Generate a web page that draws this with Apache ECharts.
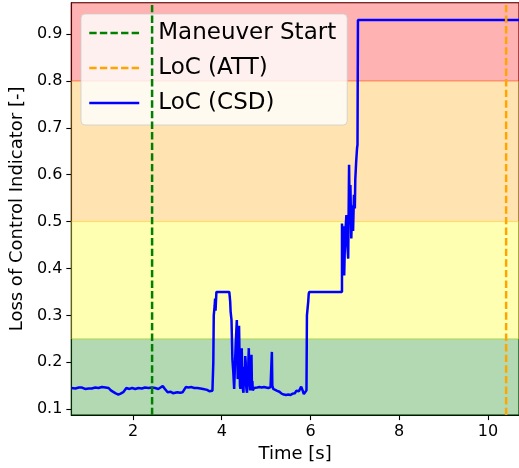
<!DOCTYPE html>
<html>
<head>
<meta charset="utf-8">
<script src="https://cdn.jsdelivr.net/npm/echarts@6/dist/echarts.min.js"></script>
<style>html,body{margin:0;padding:0;background:#fff;}#c{width:519px;height:468px;}</style>
</head>
<body>
<div id="c"></div>
<script>
// ---- data ----
const timeCsd = [0.61,0.70,0.78,0.85,0.92,1.00,1.07,1.15,1.22,1.30,1.38,1.45,1.50,1.53,1.60,1.67,1.72,1.78,1.82,1.85,1.92,1.98,2.05,2.12,2.20,2.27,2.35,2.43,2.50,2.57,2.62,2.67,2.72,2.78,2.85,2.90,2.94,3.00,3.06,3.12,3.16,3.19,3.25,3.32,3.38,3.45,3.52,3.58,3.62,3.67,3.72,3.76,3.79,3.81,3.82,3.84,3.85,3.86,3.87,3.88,3.90,4.00,4.10,4.17,4.19,4.20,4.22,4.24,4.26,4.28,4.30,4.32,4.34,4.35,4.36,4.37,4.38,4.39,4.40,4.41,4.42,4.43,4.44,4.45,4.46,4.47,4.48,4.49,4.50,4.51,4.52,4.53,4.54,4.55,4.56,4.57,4.58,4.59,4.60,4.61,4.62,4.63,4.64,4.65,4.66,4.67,4.68,4.69,4.70,4.71,4.73,4.76,4.80,4.85,4.90,4.95,5.00,5.05,5.10,5.12,5.13,5.14,5.16,5.20,5.25,5.30,5.35,5.40,5.45,5.50,5.55,5.60,5.65,5.68,5.72,5.74,5.76,5.79,5.81,5.83,5.85,5.87,5.89,5.91,5.92,5.94,5.95,5.96,5.97,6.20,6.50,6.71,6.71,6.72,6.74,6.75,6.76,6.78,6.81,6.83,6.85,6.87,6.88,6.90,6.92,6.94,6.96,6.98,7.00,7.01,7.03,7.05,7.06,7.07,8.00,9.00,10.00,10.70];
const locCsd = [0.145,0.144,0.146,0.146,0.143,0.144,0.144,0.146,0.145,0.147,0.146,0.145,0.140,0.136,0.134,0.131,0.133,0.136,0.140,0.145,0.143,0.145,0.143,0.145,0.144,0.146,0.145,0.146,0.145,0.143,0.146,0.149,0.143,0.136,0.137,0.134,0.134,0.136,0.135,0.136,0.140,0.147,0.146,0.147,0.145,0.145,0.144,0.143,0.141,0.141,0.138,0.136,0.139,0.200,0.300,0.320,0.336,0.310,0.330,0.350,0.350,0.350,0.350,0.350,0.330,0.308,0.290,0.207,0.180,0.143,0.200,0.250,0.290,0.230,0.164,0.210,0.250,0.278,0.220,0.150,0.143,0.200,0.170,0.230,0.190,0.160,0.140,0.135,0.190,0.170,0.150,0.213,0.200,0.150,0.140,0.135,0.180,0.150,0.200,0.230,0.160,0.150,0.140,0.175,0.140,0.216,0.150,0.160,0.140,0.138,0.145,0.147,0.146,0.147,0.146,0.147,0.146,0.145,0.147,0.150,0.222,0.150,0.143,0.142,0.139,0.137,0.133,0.131,0.130,0.131,0.130,0.133,0.134,0.139,0.143,0.138,0.141,0.148,0.145,0.138,0.132,0.135,0.134,0.140,0.300,0.320,0.330,0.345,0.350,0.350,0.350,0.350,0.496,0.479,0.436,0.490,0.385,0.470,0.514,0.450,0.421,0.621,0.543,0.578,0.464,0.535,0.480,0.557,0.528,0.590,0.628,0.657,0.664,0.930,0.930,0.930,0.930,0.930];
const maneuverStart = 2.43;
const locAtt = 10.41;
const bandEdges = [0.25, 0.5, 0.8];
const xTicks = [2, 4, 6, 8, 10];
const yTicks = [0.1, 0.2, 0.3, 0.4, 0.5, 0.6, 0.7, 0.8, 0.9];
const xRange = [0.61, 10.70];
const yRange = [0.0872, 0.967];
const seriesNames = ['Maneuver Start', 'LoC (ATT)', 'LoC (CSD)'];

const csdData = timeCsd.map((t, i) => [t, locCsd[i]]);
const FONT = 'DejaVu Sans';
const chart = echarts.init(document.getElementById('c'), null, {renderer: 'canvas'});
chart.setOption({
  animation: false,
  backgroundColor: '#fff',
  grid: {left: 68, top: 2.7, right: -4, bottom: 51.3, show: true, borderColor: '#000', borderWidth: 1.1, backgroundColor: 'transparent', containLabel: false},
  legend: {
    data: seriesNames,
    orient: 'vertical', left: 81, top: 14,
    itemWidth: 50, itemHeight: 26, itemGap: 9,
    padding: [6, 11, 9, 7],
    backgroundColor: 'rgba(255,255,255,0.8)',
    borderColor: 'rgba(204,204,204,0.8)', borderWidth: 1, borderRadius: 4,
    itemStyle: {opacity: 0},
    lineStyle: {width: 2.5},
    textStyle: {fontFamily: FONT, fontSize: 23, color: '#000', padding: [0, 0, 0, 14], lineHeight: 26},
    selectedMode: false
  },
  xAxis: {
    type: 'value', min: xRange[0], max: xRange[1],
    name: 'Time [s]', nameLocation: 'middle', nameGap: 26,
    nameTextStyle: {fontFamily: FONT, fontSize: 18, color: '#000'},
    axisLine: {show: true, onZero: false, lineStyle: {color: '#000', width: 1.1}},
    axisTick: {show: true, length: 5, customValues: xTicks, lineStyle: {color: '#000', width: 1.1}},
    axisLabel: {customValues: xTicks, fontFamily: FONT, fontSize: 16, color: '#000', margin: 9, showMinLabel: true, showMaxLabel: true},
    splitLine: {show: false}
  },
  yAxis: {
    type: 'value', min: yRange[0], max: yRange[1],
    name: 'Loss of Control Indicator [-]', nameLocation: 'middle', nameGap: 41,
    nameTextStyle: {fontFamily: FONT, fontSize: 18, color: '#000'},
    axisLine: {show: true, onZero: false, lineStyle: {color: '#000', width: 1.1}},
    axisTick: {show: true, length: 5, customValues: yTicks, lineStyle: {color: '#000', width: 1.1}},
    axisLabel: {customValues: yTicks, fontFamily: FONT, fontSize: 16, color: '#000', margin: 9, formatter: v => v.toFixed(1)},
    splitLine: {show: false}
  },
  series: [
    {
      name: 'LoC (CSD)', type: 'line', data: csdData, showSymbol: false, symbol: 'none', z: 3,
      lineStyle: {color: '#0000ff', width: 2.5}, itemStyle: {color: '#0000ff'},
      markArea: {
        silent: true,
        data: [
          [{yAxis: yRange[0], itemStyle: {color: 'rgba(0,128,0,0.3)', borderColor: 'rgba(0,128,0,0.3)', borderWidth: 1}}, {yAxis: bandEdges[0]}],
          [{yAxis: bandEdges[0], itemStyle: {color: 'rgba(255,255,0,0.3)', borderColor: 'rgba(255,255,0,0.3)', borderWidth: 1}}, {yAxis: bandEdges[1]}],
          [{yAxis: bandEdges[1], itemStyle: {color: 'rgba(255,165,0,0.3)', borderColor: 'rgba(255,165,0,0.3)', borderWidth: 1}}, {yAxis: bandEdges[2]}],
          [{yAxis: bandEdges[2], itemStyle: {color: 'rgba(255,0,0,0.3)', borderColor: 'rgba(255,0,0,0.3)', borderWidth: 1}}, {yAxis: yRange[1]}]
        ]
      }
    },
    {
      name: 'Maneuver Start', type: 'line', data: [[maneuverStart, yRange[0]], [maneuverStart, yRange[1]]], showSymbol: false, symbol: 'none', z: 4,
      lineStyle: {color: '#008000', width: 2.5, type: [7.4, 3.2]}, itemStyle: {color: '#008000'}
    },
    {
      name: 'LoC (ATT)', type: 'line', data: [[locAtt, yRange[0]], [locAtt, yRange[1]]], showSymbol: false, symbol: 'none', z: 4,
      lineStyle: {color: '#ffa500', width: 2.5, type: [7.4, 3.2]}, itemStyle: {color: '#ffa500'}
    }
  ]
});
</script>
</body>
</html>
